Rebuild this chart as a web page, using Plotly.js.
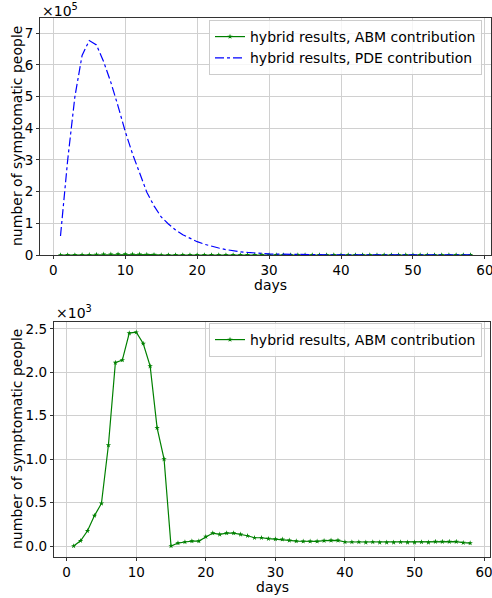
<!DOCTYPE html>
<html>
<head>
<meta charset="utf-8">
<script src="https://cdn.plot.ly/plotly-3.0.1.min.js"></script>
<style>html,body{margin:0;padding:0;background:#fff;}#chart{width:492px;height:598px;}</style>
</head>
<body>
<div id="chart"></div>
<script>
const days = Array.from({length: 58}, (_, i) => i + 1);

const abm = [0, 60, 175, 350, 490, 1160, 2110, 2140, 2450, 2460,
  2330, 2070, 1360, 1000, 0, 34, 46, 57, 57, 107,
  149, 134, 149, 149, 134, 118, 95, 95, 84, 80,
  77, 65, 57, 54, 54, 54, 61, 65, 65, 46,
  46, 46, 42, 46, 42, 42, 42, 46, 42, 42,
  46, 42, 50, 50, 50, 50, 38, 34];

const pde = [60000, 300000, 500000, 630000, 677000, 663000, 610000, 545000, 470000, 390000,
  320000, 258000, 198000, 155000, 120000, 98000, 79000, 64000, 52000, 42000,
  34000, 27000, 22000, 17000, 13000, 10000, 8000, 6000, 4500, 3500,
  2700, 2100, 1700, 1400, 1200, 1000, 900, 800, 700, 650,
  600, 550, 500, 460, 420, 390, 360, 330, 300, 280,
  260, 240, 220, 200, 190, 180, 170, 160];

const xTicks = [0, 10, 20, 30, 40, 50, 60];
const topTickVals = [0, 100000, 200000, 300000, 400000, 500000, 600000, 700000];
const topTickText = ['0', '1', '2', '3', '4', '5', '6', '7'];
const botTickVals = [0, 500, 1000, 1500, 2000, 2500];
const botTickText = ['0.0', '0.5', '1.0', '1.5', '2.0', '2.5'];

const FONT = 'DejaVu Sans, sans-serif';
const green = '#008000';
const blue = '#0000ff';

const traces = [
  {x: days, y: abm, xaxis: 'x', yaxis: 'y', mode: 'lines+markers', name: 'hybrid results, ABM contribution',
   line: {color: green, width: 1.2}, marker: {symbol: 'star', size: 4, color: green}, legend: 'legend'},
  {x: days, y: pde, xaxis: 'x', yaxis: 'y', mode: 'lines', name: 'hybrid results, PDE contribution',
   line: {color: blue, width: 1.2, dash: 'dashdot'}, legend: 'legend'},
  {x: days, y: abm, xaxis: 'x2', yaxis: 'y2', mode: 'lines+markers', name: 'hybrid results, ABM contribution',
   line: {color: green, width: 1.2}, marker: {symbol: 'star', size: 4, color: green}, legend: 'legend2'}
];

const axCommon = {
  showgrid: true, gridcolor: '#d0d0d0', gridwidth: 1,
  showline: true, linecolor: '#333', linewidth: 1, mirror: true,
  ticks: 'outside', ticklen: 3, tickcolor: '#333', tickwidth: 1,
  zeroline: false, tickfont: {family: FONT, size: 13.5, color: '#000'},
  ticklabeloverflow: 'allow'
};

const titleFont = {family: FONT, size: 14, color: '#000'};

const layout = {
  width: 492, height: 598, autosize: false,
  margin: {l: 0, r: 0, t: 0, b: 0},
  paper_bgcolor: '#fff', plot_bgcolor: '#fff',
  font: {family: FONT, size: 14, color: '#000'},
  xaxis: Object.assign({}, axCommon, {domain: [40/492, 491/492], range: [-1.85, 60.85], tickvals: xTicks, anchor: 'y'}),
  yaxis: Object.assign({}, axCommon, {domain: [1 - 255/598, 1 - 18/598], range: [0, 748000],
    tickvals: topTickVals, ticktext: topTickText, anchor: 'x'}),
  xaxis2: Object.assign({}, axCommon, {domain: [53.8/492, 490/492], range: [-1.85, 60.85], tickvals: xTicks, anchor: 'y2'}),
  yaxis2: Object.assign({}, axCommon, {domain: [1 - 556.7/598, 1 - 322/598], range: [-123, 2578],
    tickvals: botTickVals, ticktext: botTickText, anchor: 'x2'}),
  legend: {x: 482/492, y: 1 - 20/598, xanchor: 'right', yanchor: 'top', xref: 'paper', yref: 'paper',
    bgcolor: 'rgba(255,255,255,0.8)', bordercolor: '#cccccc', borderwidth: 1,
    font: {family: FONT, size: 14}, itemwidth: 30, tracegroupgap: 0},
  legend2: {x: 482/492, y: 1 - 323/598, xanchor: 'right', yanchor: 'top', xref: 'paper', yref: 'paper',
    bgcolor: 'rgba(255,255,255,0.8)', bordercolor: '#cccccc', borderwidth: 1,
    font: {family: FONT, size: 14}, itemwidth: 30},
  annotations: [
    {text: '×10<sup>5</sup>', xref: 'paper', yref: 'paper', x: 40/492, y: 1 - 10/598, xanchor: 'left', yanchor: 'middle',
     showarrow: false, font: titleFont},
    {text: '×10<sup>3</sup>', xref: 'paper', yref: 'paper', x: 53.8/492, y: 1 - 312/598, xanchor: 'left', yanchor: 'middle',
     showarrow: false, font: titleFont},
    {text: 'days', xref: 'paper', yref: 'paper', x: 270/492, y: 1 - 285/598, xanchor: 'center', yanchor: 'middle',
     showarrow: false, font: titleFont},
    {text: 'days', xref: 'paper', yref: 'paper', x: 272/492, y: 1 - 587/598, xanchor: 'center', yanchor: 'middle',
     showarrow: false, font: titleFont},
    {text: 'number of symptomatic people', xref: 'paper', yref: 'paper', x: 17/492, y: 1 - 136/598, textangle: -90,
     xanchor: 'center', yanchor: 'middle', showarrow: false, font: titleFont},
    {text: 'number of symptomatic people', xref: 'paper', yref: 'paper', x: 17/492, y: 1 - 439/598, textangle: -90,
     xanchor: 'center', yanchor: 'middle', showarrow: false, font: titleFont}
  ],
  showlegend: true
};

Plotly.newPlot('chart', traces, layout, {displayModeBar: false, staticPlot: true});
</script>
</body>
</html>
